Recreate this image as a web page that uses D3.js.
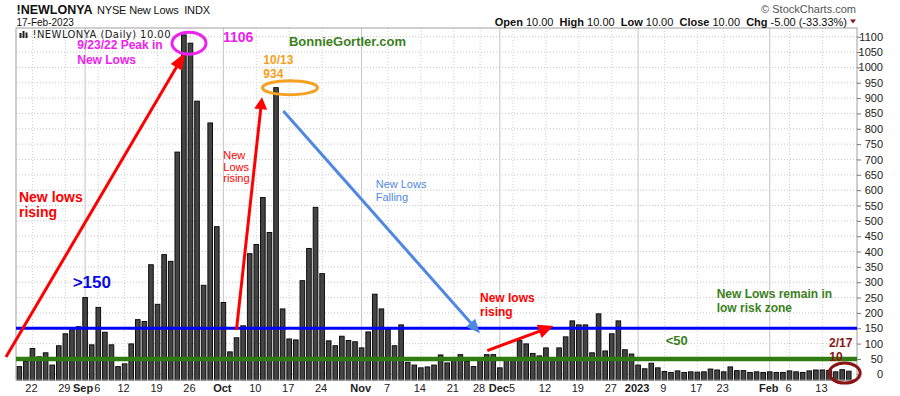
<!DOCTYPE html>
<html>
<head>
<meta charset="utf-8">
<script src="https://cdn.jsdelivr.net/npm/d3@7"></script>
<style>
  body { margin: 0; background: #fff; }
  svg { display: block; font-family: 'Liberation Sans', Arial, sans-serif; }
</style>
</head>
<body>
<div id="chart"></div>
<script>
// trading days on the chart
var dates = [
  "2022-08-18","2022-08-19","2022-08-22","2022-08-23","2022-08-24","2022-08-25","2022-08-26","2022-08-29","2022-08-30","2022-08-31",
  "2022-09-01","2022-09-02","2022-09-06","2022-09-07","2022-09-08","2022-09-09","2022-09-12","2022-09-13","2022-09-14","2022-09-15","2022-09-16",
  "2022-09-19","2022-09-20","2022-09-21","2022-09-22","2022-09-23","2022-09-26","2022-09-27","2022-09-28","2022-09-29","2022-09-30",
  "2022-10-03","2022-10-04","2022-10-05","2022-10-06","2022-10-07","2022-10-10","2022-10-11","2022-10-12","2022-10-13","2022-10-14",
  "2022-10-17","2022-10-18","2022-10-19","2022-10-20","2022-10-21","2022-10-24","2022-10-25","2022-10-26","2022-10-27","2022-10-28","2022-10-31",
  "2022-11-01","2022-11-02","2022-11-03","2022-11-04","2022-11-07","2022-11-08","2022-11-09","2022-11-10","2022-11-11","2022-11-14",
  "2022-11-15","2022-11-16","2022-11-17","2022-11-18","2022-11-21","2022-11-22","2022-11-23","2022-11-25","2022-11-28","2022-11-29","2022-11-30",
  "2022-12-01","2022-12-02","2022-12-05","2022-12-06","2022-12-07","2022-12-08","2022-12-09","2022-12-12","2022-12-13","2022-12-14",
  "2022-12-15","2022-12-16","2022-12-19","2022-12-20","2022-12-21","2022-12-22","2022-12-23","2022-12-27","2022-12-28","2022-12-29","2022-12-30",
  "2023-01-03","2023-01-04","2023-01-05","2023-01-06","2023-01-09","2023-01-10","2023-01-11","2023-01-12","2023-01-13","2023-01-17",
  "2023-01-18","2023-01-19","2023-01-20","2023-01-23","2023-01-24","2023-01-25","2023-01-26","2023-01-27","2023-01-30","2023-01-31",
  "2023-02-01","2023-02-02","2023-02-03","2023-02-06","2023-02-07","2023-02-08","2023-02-09","2023-02-10","2023-02-13","2023-02-14",
  "2023-02-15","2023-02-16","2023-02-17"
];

// NYSE new lows per day
var newLows = [
  25, 42, 84, 57, 70, 30, 93, 132, 145, 155,
  250, 96, 218, 137, 96, 25, 34, 99, 178, 172, 357, 228, 390, 368, 724, 1106, 1079, 890, 290, 819, 481,
  234, 73, 119, 158, 393, 423, 576, 462, 934, 213, 115, 112, 305, 410, 544, 328, 109, 93, 124, 110, 106,
  86, 138, 261, 213, 146, 93, 161, 39, 30, 21, 24, 30, 63, 37, 45, 64, 42, 25, 47, 64, 64,
  21, 48, 50, 110, 99, 68, 60, 86, 48, 86, 122, 174, 161, 161, 70, 197, 76, 132, 174, 80, 66,
  30, 18, 36, 21, 9, 6, 11, 6, 8, 7, 8, 17, 14, 8, 24, 12, 12, 6, 8, 6,
  8, 6, 6, 11, 8, 6, 11, 14, 14, 13, 8, 15, 10
];

// x axis labels (month starts are bold)
var tickLabels = [
  ["2022-08-22","22"],["2022-08-29","29"],["2022-09-01","Sep"],["2022-09-06","6"],["2022-09-12","12"],
  ["2022-09-19","19"],["2022-09-26","26"],["2022-10-03","Oct"],["2022-10-10","10"],["2022-10-17","17"],
  ["2022-10-24","24"],["2022-11-01","Nov"],["2022-11-07","7"],["2022-11-14","14"],["2022-11-21","21"],
  ["2022-11-28","28"],["2022-12-01","Dec"],["2022-12-05","5"],["2022-12-12","12"],["2022-12-19","19"],
  ["2022-12-27","27"],["2023-01-03","2023"],["2023-01-09","9"],["2023-01-17","17"],["2023-01-23","23"],
  ["2023-02-01","Feb"],["2023-02-06","6"],["2023-02-13","13"]
];
var monthStarts = ["2022-09-01","2022-10-03","2022-11-01","2022-12-01","2023-01-03","2023-02-01"];

var yTicks = [0,50,100,150,200,250,300,350,400,450,500,550,600,650,700,750,800,850,900,950,1000,1050,1100];
var levels = [150, 50]; // blue / green reference lines

var W = 900, H = 396;
var plotL = 16, plotR = 857, plotT = 28, plotB = 380;

var svg = d3.select("#chart").append("svg").attr("width", W).attr("height", H);

// band scale: one slot per trading day
var x = d3.scaleBand().domain(dates).range([plotL, plotL + 6.583 * dates.length])
  .paddingInner(0.3).paddingOuter(0.15);
var y = d3.scaleLinear().domain([-18.6, 1128.4]).range([plotB, plotT]);

// fractional day index -> pixel, for the annotations
function xi(i) { return x(dates[0]) + x.bandwidth() / 2 + i * x.step(); }
function pt(p) { return [xi(p[0]), y(p[1])]; }

// grid
var grid = svg.append("g");
grid.selectAll("line.h").data(yTicks).enter().append("line")
  .attr("x1", plotL).attr("x2", plotR)
  .attr("y1", function (d) { return y(d); }).attr("y2", function (d) { return y(d); })
  .attr("stroke", "#c8c8c8").attr("stroke-dasharray", "1,2");
grid.selectAll("line.v").data(tickLabels).enter().append("line")
  .attr("x1", function (d) { return x(d[0]) + x.bandwidth() / 2; })
  .attr("x2", function (d) { return x(d[0]) + x.bandwidth() / 2; })
  .attr("y1", plotT).attr("y2", plotB)
  .attr("stroke", function (d) { return monthStarts.indexOf(d[0]) >= 0 ? "#c4c4c4" : "#cfcfcf"; })
  .attr("stroke-dasharray", function (d) { return monthStarts.indexOf(d[0]) >= 0 ? null : "1,2"; });

// bars
svg.append("g").selectAll("rect").data(newLows).enter().append("rect")
  .attr("x", function (d, i) { return x(dates[i]); })
  .attr("width", x.bandwidth())
  .attr("y", function (d) { return y(d); })
  .attr("height", function (d) { return plotB - y(d); })
  .attr("fill", "#444")
  .attr("stroke", "#0d0d0d")
  .attr("stroke-width", 1);

// frame
svg.append("rect").attr("x", plotL).attr("y", plotT).attr("width", plotR - plotL).attr("height", plotB - plotT)
  .attr("fill", "none").attr("stroke", "#a0a0a0");

// reference lines
svg.append("line").attr("x1", plotL).attr("x2", plotR).attr("y1", y(levels[1])).attr("y2", y(levels[1]))
  .attr("stroke", "#2f7d12").attr("stroke-width", 4.5);
svg.append("line").attr("x1", plotL).attr("x2", plotR).attr("y1", y(levels[0])).attr("y2", y(levels[0]))
  .attr("stroke", "#0000ff").attr("stroke-width", 3.2);

// y axis on the right
var yAxis = svg.append("g").attr("transform", "translate(" + plotR + ",0)")
  .call(d3.axisRight(y).tickValues(yTicks).tickSize(4).tickFormat(d3.format("d")));
yAxis.select(".domain").remove();
yAxis.selectAll("line").attr("stroke", "#777");
yAxis.selectAll("text").attr("text-anchor", "end").attr("x", 26)
  .style("font-family", "'Liberation Sans', Arial, sans-serif").style("font-size", "11px").attr("fill", "#222");

// x axis
var labelMap = {};
tickLabels.forEach(function (t) { labelMap[t[0]] = t[1]; });
var xAxis = svg.append("g").attr("transform", "translate(0," + plotB + ")")
  .call(d3.axisBottom(x).tickValues(tickLabels.map(function (t) { return t[0]; }))
    .tickSize(0).tickPadding(4).tickFormat(function (d) { return labelMap[d]; }));
xAxis.select(".domain").remove();
xAxis.selectAll("text")
  .style("font-family", "'Liberation Sans', Arial, sans-serif").style("font-size", "11px").attr("fill", "#222")
  .style("font-weight", function (d) { return monthStarts.indexOf(d) >= 0 ? "bold" : "normal"; })
  .attr("dx", function (d) { return d === "2022-09-01" ? "-2" : "-1"; });

// header
svg.append("text").attr("x", 16.5).attr("y", 13.5).style("font-size", "12.5px").style("font-weight", "bold")
  .attr("fill", "#111").text("!NEWLONYA");
svg.append("text").attr("x", 97).attr("y", 13.5).style("font-size", "11px").attr("fill", "#111")
  .style("white-space", "pre").attr("textLength", 113).text("NYSE New Lows  INDX");
svg.append("text").attr("x", 16.5).attr("y", 26).style("font-size", "10px").attr("fill", "#111").text("17-Feb-2023");
svg.append("text").attr("x", 856).attr("y", 13).attr("text-anchor", "end").style("font-size", "11px")
  .attr("fill", "#555").text("\u00a9 StockCharts.com");

var quote = svg.append("text").attr("x", 847).attr("y", 25.5).attr("text-anchor", "end")
  .style("font-size", "11px").style("white-space", "pre").attr("fill", "#111");
[["Open", 1], [" 10.00  ", 0], ["High", 1], [" 10.00  ", 0], ["Low", 1], [" 10.00  ", 0],
 ["Close", 1], [" 10.00  ", 0], ["Chg", 1], [" -5.00 (-33.33%)", 0]].forEach(function (p) {
  quote.append("tspan").style("font-weight", p[1] ? "bold" : "normal").text(p[0]);
});
svg.append("path").attr("d", "M850,19.5 L856,19.5 L853,23.5 Z").attr("fill", "#8b1020");

// legend line inside the plot
var icon = svg.append("g").attr("fill", "#222");
[[19.5, 33, 2, 5], [22.5, 31, 2, 7], [25.5, 32.5, 2, 5.5]].forEach(function (r) {
  icon.append("rect").attr("x", r[0]).attr("y", r[1]).attr("width", r[2]).attr("height", r[3]);
});
svg.append("text").attr("x", 32.5).attr("y", 38).style("font-family", "'DejaVu Sans', Verdana, sans-serif")
  .style("font-size", "10px").attr("fill", "#222").attr("textLength", 138).text("!NEWLONYA (Daily) 10.00");

// annotations, positioned in (day index, value) space
var arrows = [
  { from: [-2.02, 56], to: [25.17, 1048], color: "#ff0000", width: 3, head: [17, 6.5] },
  { from: [32.99, 145], to: [36.87, 903], color: "#ff0000", width: 3, head: [12, 6.5] },
  { from: [40.11, 858], to: [69.98, 134], color: "#4f88e3", width: 3, head: [14, 6] },
  { from: [71.09, 77], to: [81.12, 157], color: "#ff0000", width: 3, head: [15, 7] }
];
arrows.forEach(function (a) {
  var p0 = pt(a.from), p1 = pt(a.to);
  var dx = p1[0] - p0[0], dy = p1[1] - p0[1], len = Math.sqrt(dx * dx + dy * dy);
  var ux = dx / len, uy = dy / len;
  var bx = p1[0] - ux * a.head[0], by = p1[1] - uy * a.head[0];
  svg.append("line").attr("x1", p0[0]).attr("y1", p0[1]).attr("x2", bx + ux * 2).attr("y2", by + uy * 2)
    .attr("stroke", a.color).attr("stroke-width", a.width);
  svg.append("path").attr("fill", a.color).attr("d",
    "M" + p1[0] + "," + p1[1] +
    "L" + (bx - uy * a.head[1]) + "," + (by + ux * a.head[1]) +
    "L" + (bx + uy * a.head[1]) + "," + (by - ux * a.head[1]) + "Z");
});

var rings = [
  { c: [25.78, 1079], r: [17, 11], color: "#ee22ee" },
  { c: [41.12, 934], r: [27.5, 7], color: "#f5a020" },
  { c: [125.38, 4], r: [15.5, 10], color: "#8b1414" }
];
rings.forEach(function (e) {
  var p = pt(e.c);
  svg.append("ellipse").attr("cx", p[0]).attr("cy", p[1]).attr("rx", e.r[0]).attr("ry", e.r[1])
    .attr("fill", "none").attr("stroke", e.color).attr("stroke-width", 3);
});

var notes = [
  { at: [-0.05, 561], text: "New lows", size: 14, bold: 1, color: "#ff0000" },
  { at: [-0.05, 512], text: "rising", size: 14, bold: 1, color: "#ff0000" },
  { at: [8.81, 1059], text: "9/23/22 Peak in", size: 12, bold: 1, color: "#ee22ee" },
  { at: [8.81, 1012], text: "New Lows", size: 12, bold: 1, color: "#ee22ee" },
  { at: [30.94, 1084], text: "1106", size: 14, bold: 1, color: "#ee22ee" },
  { at: [40.97, 1070], text: "BonnieGortler.com", size: 13, bold: 1, color: "#3b7f1c" },
  { at: [37.07, 1012], text: "10/13", size: 12, bold: 1, color: "#f5a020" },
  { at: [37.07, 965], text: "934", size: 12, bold: 1, color: "#f5a020" },
  { at: [30.99, 702], text: "New", size: 11, bold: 0, color: "#ff0000" },
  { at: [30.99, 664], text: "Lows", size: 11, bold: 0, color: "#ff0000" },
  { at: [30.99, 627], text: "rising", size: 11, bold: 0, color: "#ff0000" },
  { at: [54.14, 607], text: "New Lows", size: 11, bold: 0, color: "#4f88e3" },
  { at: [54.14, 566], text: "Falling", size: 11, bold: 0, color: "#4f88e3" },
  { at: [8.11, 280], text: ">150", size: 17, bold: 1, color: "#0a0ae6" },
  { at: [69.98, 236], text: "New lows", size: 12, bold: 1, color: "#ff0000" },
  { at: [69.98, 190], text: "rising", size: 12, bold: 1, color: "#ff0000" },
  { at: [105.94, 250], text: "New Lows remain in", size: 12, bold: 1, color: "#3b7f1c" },
  { at: [105.94, 204], text: "low risk zone", size: 12, bold: 1, color: "#3b7f1c" },
  { at: [98.19, 95], text: "<50", size: 13, bold: 1, color: "#3b7f1c" },
  { at: [123.0, 88], text: "2/17", size: 12, bold: 1, color: "#8b1414" },
  { at: [123.04, 44], text: "10", size: 12, bold: 1, color: "#8b1414" }
];
notes.forEach(function (n) {
  var p = pt(n.at);
  svg.append("text").attr("x", p[0]).attr("y", p[1])
    .style("font-size", n.size + "px").style("font-weight", n.bold ? "bold" : "normal")
    .attr("fill", n.color).text(n.text);
});
</script>
</body>
</html>
